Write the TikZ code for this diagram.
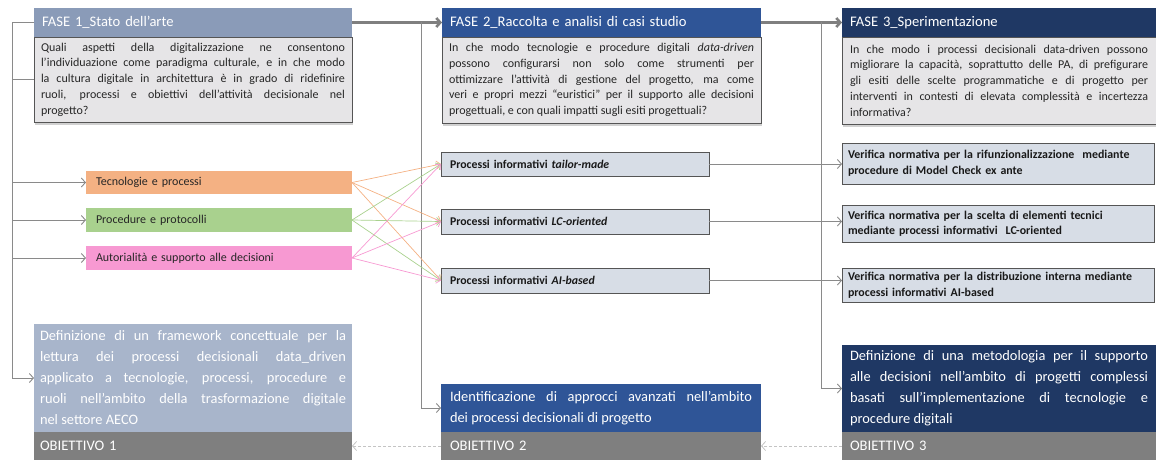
\documentclass[tikz,border=0pt]{standalone}
\usepackage{fontspec}
\setmainfont{Carlito}
\usetikzlibrary{arrows.meta,shadows}
\hyphenpenalty=10000
\exhyphenpenalty=10000
\definecolor{hdrA}{HTML}{8A9BB8}
\definecolor{objA}{HTML}{A8B5CB}
\definecolor{blueB}{HTML}{2F5597}
\definecolor{navyC}{HTML}{1F3864}
\definecolor{bodyG}{HTML}{E6E5E7}
\definecolor{boxBG}{HTML}{D7DDE6}
\definecolor{barG}{HTML}{7F7F7F}
\definecolor{lineG}{HTML}{8A8A8A}
\definecolor{orangeT}{HTML}{F4B183}
\definecolor{greenP}{HTML}{A9D18E}
\definecolor{pinkA}{HTML}{F799D2}
\definecolor{dashG}{HTML}{C4C4C4}
\definecolor{borderD}{HTML}{555555}
\tikzset{
  box/.style={anchor=north west, inner ysep=0pt, outer sep=0pt},
  hdr/.style={box, minimum height=29pt, text=white, font=\fontsize{14.6}{17}\selectfont, align=left, inner xsep=8pt, text depth=0.3ex},
  body/.style={box, fill=bodyG, draw=borderD, line width=0.7pt, align=justify,
    font=\fontsize{12}{15.8}\selectfont, text=black!85,
    drop shadow={shadow xshift=1pt, shadow yshift=-3pt, opacity=0.18, fill=black}},
  cbox/.style={box, minimum width=266pt, text width=246pt, inner xsep=10pt, align=left,
    font=\fontsize{12}{14}\selectfont, text=black!85},
  pbox/.style={box, minimum width=268pt, text width=250pt, inner xsep=9pt, align=left,
    fill=boxBG, draw=borderD, line width=0.7pt, font=\bfseries\fontsize{11.8}{14}\selectfont, text=black!90},
  vbox/.style={box, minimum width=312pt, text width=300pt, inner xsep=6pt, align=left,
    fill=boxBG, draw=borderD, line width=0.7pt, font=\bfseries\fontsize{11.9}{15.5}\selectfont, text=black!90},
  obj/.style={box, text=white, align=justify, font=\fontsize{14.4}{21}\selectfont},
  bar/.style={box, fill=barG, text=white, minimum height=28pt, align=left, font=\fontsize{14.6}{17}\selectfont, text depth=0.3ex},
  conn/.style={draw=lineG, line width=0.9pt},
  connarrow/.style={conn, -{Straight Barb[length=4pt,width=9pt]}},
  toparrow/.style={draw=barG, line width=2.6pt, -{Straight Barb[length=4pt,width=9pt]}},
  crossline/.style={line width=0.7pt, -{Straight Barb[length=4pt,width=8pt]}},
  dasharrow/.style={draw=dashG, line width=0.8pt, dash pattern=on 3pt off 2pt, -{Straight Barb[length=4pt,width=9pt]}}
}
\begin{document}
\begin{tikzpicture}[x=1pt,y=-1pt]
\useasboundingbox (0,0) rectangle (1156,460);

% FASE boxes
\node[body, text width=304pt, inner xsep=7pt, minimum height=85pt] (f1b) at (34,37) {Quali aspetti della digitalizzazione ne consentono\linebreak l’individuazione come paradigma culturale, e in che modo\linebreak la cultura digitale in architettura è in grado di ridefinire\linebreak ruoli, processi e obiettivi dell’attività decisionale nel\linebreak progetto?};
\node[hdr, fill=hdrA, text width=302pt] (f1h) at (34,8) {FASE 1\_Stato dell’arte};

\node[body, text width=305pt, inner xsep=7pt, minimum height=86pt] (f2b) at (442,37) {In che modo tecnologie e procedure digitali \textit{data-driven}\linebreak possono configurarsi non solo come strumenti per\linebreak ottimizzare l’attività di gestione del progetto, ma come\linebreak veri e propri mezzi “euristici” per il supporto alle decisioni\linebreak progettuali, e con quali impatti sugli esiti progettuali?};
\node[hdr, fill=blueB, text width=303pt] (f2h) at (442,8) {FASE 2\_Raccolta e analisi di casi studio};

\node[body, text width=298pt, inner xsep=8pt, minimum height=87pt] (f3b) at (842,37) {In che modo i processi decisionali data-driven possono\linebreak migliorare la capacità, soprattutto delle PA, di prefigurare\linebreak gli esiti delle scelte programmatiche e di progetto per\linebreak interventi in contesti di elevata complessità e incertezza\linebreak informativa?};
\node[hdr, fill=navyC, text width=298pt] (f3h) at (842,8) {FASE 3\_Sperimentazione};

% coloured boxes
\node[cbox, fill=orangeT, minimum height=23pt] (tec) at (86,171) {Tecnologie e processi};
\node[cbox, fill=greenP, minimum height=24pt] (proc) at (86,208) {Procedure e protocolli};
\node[cbox, fill=pinkA, minimum height=24pt] (aut) at (86,246) {Autorialità e supporto alle decisioni};

% processi boxes
\node[pbox, minimum height=24pt] (p1) at (441,152) {Processi informativi \textit{tailor-made}};
\node[pbox, minimum height=25pt] (p2) at (441,209) {Processi informativi \textit{LC-oriented}};
\node[pbox, minimum height=25pt] (p3) at (441,268) {Processi informativi \textit{AI-based}};

% verifica boxes
\node[vbox, minimum height=41pt] (v1) at (842,143) {Verifica normativa per la rifunzionalizzazione~ mediante\\procedure di Model Check ex ante};
\node[vbox, minimum height=37pt] (v2) at (842,205) {Verifica normativa per la scelta di elementi tecnici\\mediante processi informativi~ LC-oriented};
\node[vbox, minimum height=34pt] (v3) at (842,268) {Verifica normativa per la distribuzione interna mediante\\processi informativi AI-based};

% objectives
\node[obj, fill=objA, minimum width=318pt, text width=306pt, inner xsep=6pt, minimum height=108pt] (o1m) at (34,324) {Definizione di un framework concettuale per la\linebreak lettura dei processi decisionali data\_driven\linebreak applicato a tecnologie, processi, procedure e\linebreak ruoli nell’ambito della trasformazione digitale\linebreak nel settore AECO};
\node[bar, minimum width=318pt, text width=306pt, inner xsep=6pt] (o1b) at (34,432) {OBIETTIVO 1};

\node[obj, fill=blueB, minimum width=320pt, text width=302pt, inner xsep=9pt, minimum height=48pt] (o2m) at (441,384) {Identificazione di approcci avanzati nell’ambito\linebreak dei processi decisionali di progetto};
\node[bar, minimum width=320pt, text width=302pt, inner xsep=9pt] (o2b) at (441,432) {OBIETTIVO 2};

\node[obj, fill=navyC, minimum width=314pt, text width=298pt, inner xsep=8pt, minimum height=87pt] (o3m) at (842,345) {Definizione di una metodologia per il supporto\linebreak alle decisioni nell’ambito di progetti complessi\linebreak basati sull’implementazione di tecnologie e\linebreak procedure digitali};
\node[bar, minimum width=314pt, text width=298pt, inner xsep=8pt] (o3b) at (842,432) {OBIETTIVO 3};

% coordinates of the vertical trunks
\coordinate (lt) at ([xshift=-22pt]f1h.west);
\coordinate (mt) at ([xshift=-21pt]f2h.west);
\coordinate (rt) at ([xshift=-21pt]f3h.west);

% top arrows
\draw[toparrow] (f1h.east) -- (f2h.west);
\draw[toparrow] (f2h.east) -- (f3h.west);

% left trunk
\draw[conn] (f1h.west) -- (lt);
\draw[connarrow] (lt) |- (o1m.west);
\draw[conn] (lt |- f1b.west) -- (f1b.west);
\draw[connarrow] (lt |- tec.west) -- (tec.west);
\draw[connarrow] (lt |- proc.west) -- (proc.west);
\draw[connarrow] (lt |- aut.west) -- (aut.west);

% middle and right trunks
\draw[connarrow] (mt) |- (o2m.west);
\draw[connarrow] (rt) |- (o3m.west);

% crossing lines
\foreach \s/\c in {tec/orangeT, proc/greenP, aut/pinkA}
  \foreach \t in {p1,p2,p3}
    \draw[crossline, draw=\c] (\s.east) -- (\t.west);

% processi -> verifica
\draw[connarrow] (p1.east) -- (p1.east -| v1.west);
\draw[connarrow] (p2.east) -- (p2.east -| v2.west);
\draw[connarrow] (p3.east) -- (p3.east -| v3.west);

% dashed return arrows
\draw[dasharrow] (o3b.west) -- (o2b.east);
\draw[dasharrow] (o2b.west) -- (o1b.east);
\end{tikzpicture}
\end{document}
